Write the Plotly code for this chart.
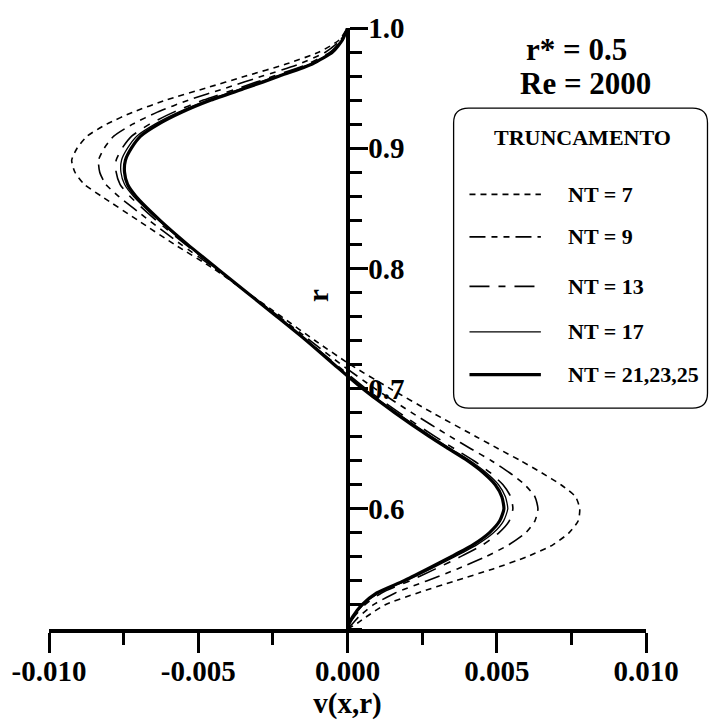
import plotly.graph_objects as go

# ---------------- data (v in units of 1e-3) ----------------
r_vals = [0.500, 0.505, 0.510, 0.520, 0.530, 0.540, 0.550, 0.560, 0.570, 0.580,
          0.590, 0.600, 0.610, 0.620, 0.630, 0.640, 0.650, 0.660, 0.680, 0.700,
          0.720, 0.740, 0.760, 0.780, 0.800, 0.820, 0.840, 0.860, 0.870, 0.880,
          0.890, 0.900, 0.910, 0.920, 0.930, 0.940, 0.950, 0.960, 0.970, 0.980,
          0.990, 1.000]

v_nt7 = [0.00, 0.34, 0.62, 1.25, 2.35, 3.60, 4.88, 6.00, 6.88, 7.42,
         7.73, 7.78, 7.64, 7.15, 6.50, 5.80, 5.05, 4.31, 2.84, 1.43,
         0.09, -1.09, -2.22, -3.36, -4.50, -5.80, -7.02, -8.24, -8.82, -9.13,
         -9.24, -9.06, -8.72, -8.07, -7.19, -6.08, -4.75, -3.41, -2.06, -0.95,
         -0.28, 0.00]

v_nt9 = [0.00, 0.19, 0.37, 0.86, 1.60, 2.65, 3.68, 4.62, 5.40, 5.97,
         6.28, 6.38, 6.28, 5.94, 5.43, 4.82, 4.13, 3.45, 2.15, 0.92,
         -0.21, -1.25, -2.30, -3.37, -4.44, -5.58, -6.65, -7.67, -8.10, -8.30,
         -8.34, -8.15, -7.83, -7.20, -6.37, -5.33, -4.08, -2.85, -1.62, -0.73,
         -0.23, 0.00]

v_nt13 = [0.00, 0.09, 0.22, 0.58, 1.14, 2.08, 2.95, 3.77, 4.53, 5.07,
          5.42, 5.54, 5.47, 5.21, 4.78, 4.23, 3.58, 2.94, 1.73, 0.61,
          -0.38, -1.35, -2.35, -3.37, -4.39, -5.43, -6.41, -7.29, -7.62, -7.75,
          -7.75, -7.55, -7.23, -6.63, -5.82, -4.83, -3.64, -2.47, -1.33, -0.58,
          -0.19, 0.00]

v_nt17 = [0.00, 0.07, 0.19, 0.52, 1.05, 1.96, 2.79, 3.58, 4.33, 4.89,
          5.23, 5.37, 5.29, 5.06, 4.65, 4.11, 3.46, 2.83, 1.64, 0.55,
          -0.42, -1.37, -2.36, -3.37, -4.38, -5.39, -6.33, -7.17, -7.47, -7.59,
          -7.57, -7.37, -7.06, -6.45, -5.66, -4.68, -3.50, -2.36, -1.24, -0.53,
          -0.18, 0.00]

v_nt21 = [0.00, 0.06, 0.17, 0.48, 0.98, 1.88, 2.68, 3.46, 4.20, 4.75,
          5.10, 5.24, 5.17, 4.95, 4.55, 4.02, 3.38, 2.75, 1.58, 0.50,
          -0.45, -1.38, -2.37, -3.37, -4.37, -5.36, -6.28, -7.09, -7.37, -7.47,
          -7.44, -7.24, -6.93, -6.33, -5.54, -4.57, -3.41, -2.28, -1.18, -0.50,
          -0.17, 0.00]

V_UNIT = 1e-3

series_names = ["NT = 7", "NT = 9", "NT = 13", "NT = 17", "NT = 21,23,25"]
series_values = [v_nt7, v_nt9, v_nt13, v_nt17, v_nt21]

x_tick_vals = [-0.010, -0.005, 0.000, 0.005, 0.010]
x_tick_text = ["-0.010", "-0.005", "0.000", "0.005", "0.010"]
y_tick_vals = [0.6, 0.7, 0.8, 0.9, 1.0]
y_tick_text = ["0.6", "0.7", "0.8", "0.9", "1.0"]

title_lines = ["r* = 0.5", "Re = 2000"]
legend_title = "TRUNCAMENTO"
x_title = "v(x,r)"
y_title = "r"

# ---------------- styles ----------------
styles = [
    dict(width=1.6, dash="6px,5px"),
    dict(width=1.6, dash="16px,6px,6px,6px,6px,6px"),
    dict(width=1.6, dash="20px,9px,7px,9px"),
    dict(width=1.3, dash="solid"),
    dict(width=3.2, dash="solid"),
]

FONT = "Liberation Serif"
W, H = 712, 727
ML, MR, MT, MB = 44, 66, 22, 98
PW, PH = W - ML - MR, H - MT - MB


def px_x(p):
    return (p - ML) / PW


def px_y(p):
    return (H - MB - p) / PH


fig = go.Figure()
for name, vals, st in zip(series_names, series_values, styles):
    fig.add_trace(go.Scatter(
        x=[v * V_UNIT for v in vals], y=r_vals, mode="lines", name=name,
        showlegend=False,
        line=dict(color="black", width=st["width"], dash=st["dash"],
                  shape="spline", smoothing=0.6),
        hoverinfo="skip",
    ))

bold = dict(family=FONT, color="black", weight="bold")

fig.update_layout(
    width=W, height=H, autosize=False,
    margin=dict(l=ML, r=MR, t=MT, b=MB, pad=0),
    paper_bgcolor="white", plot_bgcolor="white",
    showlegend=False,
    xaxis=dict(
        range=[-0.010, 0.010], tickmode="array", tickvals=x_tick_vals,
        ticktext=x_tick_text, ticks="outside", ticklen=20, tickwidth=3,
        tickcolor="black", showline=True, linewidth=4, linecolor="black",
        showgrid=False, zeroline=False, ticklabelstandoff=-7,
        tickfont=dict(size=29, **bold),
        minor=dict(dtick=0.0025, tick0=0, ticks="outside", ticklen=12,
                   tickwidth=3, tickcolor="black", showgrid=False),
        title=dict(text=x_title, font=dict(size=29, **bold), standoff=8),
    ),
    yaxis=dict(
        range=[0.5, 1.0], anchor="free", position=0.5, side="right",
        tickmode="array", tickvals=y_tick_vals, ticktext=y_tick_text,
        ticks="outside", ticklen=18, tickwidth=3, tickcolor="black",
        showline=True, linewidth=4, linecolor="black",
        showgrid=False, zeroline=False, ticklabelstandoff=-5,
        tickfont=dict(size=29, **bold),
        minor=dict(dtick=0.02, tick0=0.5, ticks="outside", ticklen=12,
                   tickwidth=3, tickcolor="black", showgrid=False),
    ),
)

annotations = []
# y-axis title "r"
annotations.append(dict(
    x=px_x(316), y=px_y(292), xref="paper", yref="paper", text=y_title,
    textangle=-90, showarrow=False, font=dict(size=29, **bold),
    xanchor="center", yanchor="middle"))
# titles
annotations.append(dict(x=px_x(576), y=px_y(44), xref="paper", yref="paper",
                        text=title_lines[0], showarrow=False,
                        font=dict(size=31, **bold), xanchor="center",
                        yanchor="middle"))
annotations.append(dict(x=px_x(585), y=px_y(78), xref="paper", yref="paper",
                        text=title_lines[1], showarrow=False,
                        font=dict(size=31, **bold), xanchor="center",
                        yanchor="middle"))
# legend title
annotations.append(dict(x=px_x(582), y=px_y(133), xref="paper", yref="paper",
                        text=legend_title, showarrow=False,
                        font=dict(size=22, **bold), xanchor="center",
                        yanchor="middle"))

shapes = []
# rounded legend box
bx0, bx1, by0, by1, rad = 452, 708, 103, 406, 15
x0, x1 = px_x(bx0), px_x(bx1)
y0, y1 = px_y(by1), px_y(by0)
rx, ry = rad / PW, rad / PH
path = (f"M {x0 + rx} {y1} L {x1 - rx} {y1} Q {x1} {y1} {x1} {y1 - ry} "
        f"L {x1} {y0 + ry} Q {x1} {y0} {x1 - rx} {y0} "
        f"L {x0 + rx} {y0} Q {x0} {y0} {x0} {y0 + ry} "
        f"L {x0} {y1 - ry} Q {x0} {y1} {x0 + rx} {y1} Z")
shapes.append(dict(type="path", path=path, xref="paper", yref="paper",
                   line=dict(color="black", width=1.3), fillcolor="white",
                   layer="above"))

entry_y = [190, 233, 283, 329, 372]
for name, st, ey in zip(series_names, styles, entry_y):
    shapes.append(dict(type="line", xref="paper", yref="paper",
                       x0=px_x(468), x1=px_x(540), y0=px_y(ey), y1=px_y(ey),
                       line=dict(color="black", width=st["width"],
                                 dash=st["dash"]), layer="above"))
    annotations.append(dict(x=px_x(565), y=px_y(ey), xref="paper",
                            yref="paper", text=name, showarrow=False,
                            font=dict(size=22, **bold), xanchor="left",
                            yanchor="middle"))

fig.update_layout(annotations=annotations, shapes=shapes)

fig.write_html("out.html")
